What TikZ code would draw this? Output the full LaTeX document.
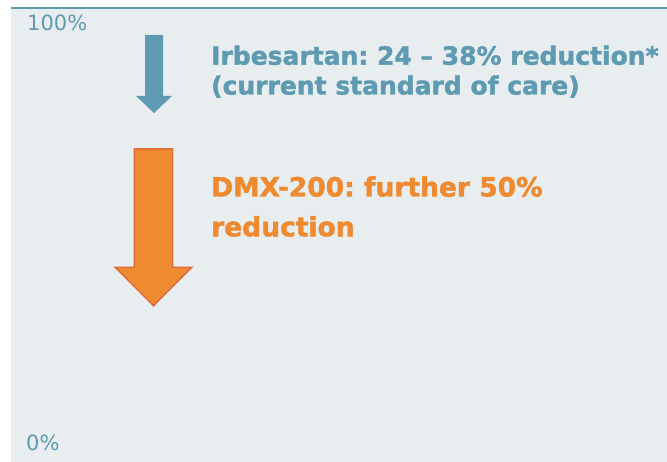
\documentclass[tikz,border=0pt]{standalone}
\usepackage{fontspec}
\setmainfont{DejaVu Sans}
\newfontfamily\heavyfont[Ligatures=TeX,FakeBold=1.6]{DejaVu Sans Bold}
\definecolor{panel}{HTML}{E8EDF0}
\definecolor{teal}{HTML}{5E9BB2}
\definecolor{orangefill}{HTML}{F08A30}
\definecolor{orangeline}{HTML}{E06A3A}
\tikzset{
  scaletext/.style={text=teal,inner sep=0pt,anchor=base west,font=\fontsize{21}{25}\selectfont},
  drug/.style={inner sep=0pt,anchor=base west,font=\heavyfont\fontsize{#1}{#1}\selectfont\frenchspacing},
}
\begin{document}
\begin{tikzpicture}[x=1pt,y=-1pt]
\useasboundingbox (0,0) rectangle (667,462);
\fill[white] (0,0) rectangle (667,462);
% panel with its top rule
\fill[panel] (11,9) rectangle (667,462);
\draw[teal,line width=2.7pt] (11,8) -- (667,8);
% scale ends
\node[scaletext] (top) at (27,30.5) {100\%};
\node[scaletext] (bottom) at (26,450) {0\%};
% standard of care
\fill[teal] (145,35) -- (163,35) -- (163,96) -- (172,96) -- (154,113)
  -- (136,96) -- (145,96) -- cycle;
\node[drug=25,text=teal] (irb) at (211,64.7) {Irbesartan: 24 -- 38\% reduction*};
\node[drug=25,text=teal] (irb2) at (211,94.5) {(current standard of care)};
% new treatment
\draw[orangeline,fill=orangefill,line width=1.5pt,line join=miter]
  (134.3,149) -- (172.7,149) -- (172.7,267.3) -- (191.7,267.3) -- (153.5,305.7)
  -- (115.3,267.3) -- (134.3,267.3) -- cycle;
\node[drug=26.5,text=orangefill] (dmx) at (211,196.5) {DMX-200: further 50\%};
\node[drug=26.5,text=orangefill] (dmx2) at (211,236.3) {reduction};
\end{tikzpicture}
\end{document}
